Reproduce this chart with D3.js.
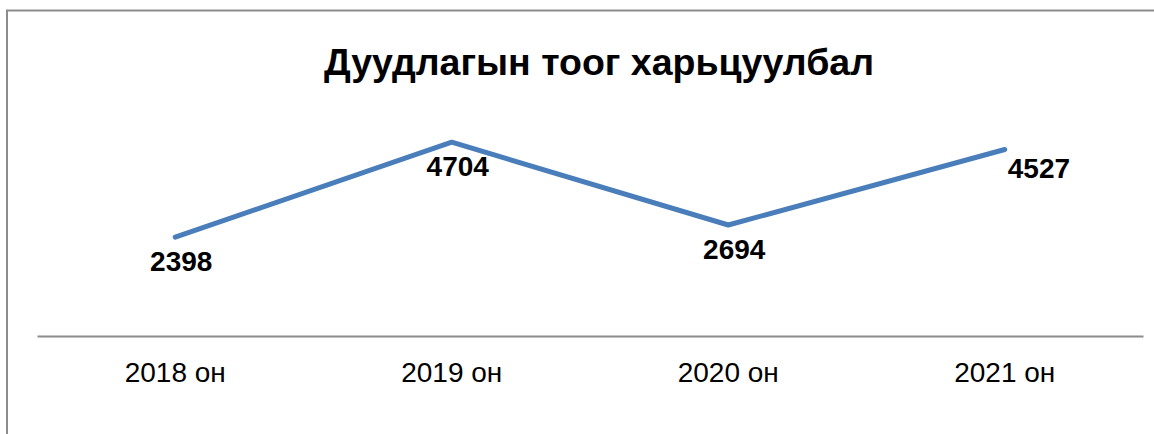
<!DOCTYPE html>
<html>
<head>
<meta charset="utf-8">
<script src="https://cdn.jsdelivr.net/npm/d3@7"></script>
<style>
  body { margin: 0; background: #fff; }
  text { font-family: "Liberation Sans", Arial, sans-serif; }
</style>
</head>
<body>
<div id="chart"></div>
<script>
var width = 1154,
    height = 434;

var years = ["2018 он", "2019 он", "2020 он", "2021 он"];
var calls = [2398, 4704, 2694, 4527];
var labelPos = ["below", "below", "below", "right"];
var title = "Дуудлагын тоог харьцуулбал";

var svg = d3.select("#chart").append("svg")
    .attr("width", width)
    .attr("height", height);

// chart frame
svg.append("rect")
  .attr("x", 7)
  .attr("y", 10.5)
  .attr("width", width + 10)
  .attr("height", height + 10)
  .attr("fill", "none")
  .attr("stroke", "#8c8c8c")
  .attr("stroke-width", 2);

var x = d3.scaleBand()
    .domain(years)
    .range([37, 1143]);

var y = d3.scaleLinear()
    .domain([0, 5000])
    .range([336, 130]);

svg.append("text")
  .attr("x", 599)
  .attr("y", 75)
  .attr("text-anchor", "middle")
  .style("font-size", "37.5px")
  .style("font-weight", "bold")
  .text(title);

var xAxis = svg.append("g")
  .attr("transform", "translate(0," + y(0) + ")")
  .call(d3.axisBottom(x).tickSize(0).tickPadding(0));
xAxis.select(".domain").attr("stroke", "#8c8c8c").attr("stroke-width", 2);
xAxis.selectAll(".tick text")
  .attr("dy", 0)
  .attr("y", 46)
  .style("font-size", "28px")
  .style("font-family", "'Liberation Sans', Arial, sans-serif")
  .attr("fill", "#000");

var cx = function(d, i) { return x(years[i]) + x.bandwidth() / 2; };

var line = d3.line()
    .x(cx)
    .y(function(d) { return y(d); });

svg.append("path")
  .datum(calls)
  .attr("d", line)
  .attr("fill", "none")
  .attr("stroke", "#4a7ebb")
  .attr("stroke-width", 5)
  .attr("stroke-linecap", "round")
  .attr("stroke-linejoin", "round");

svg.selectAll(".lbl")
  .data(calls)
  .enter().append("text")
  .attr("class", "lbl")
  .attr("x", function(d, i) { return labelPos[i] == "right" ? cx(d, i) + 3 : cx(d, i) + 6; })
  .attr("y", function(d, i) { return y(d) + (labelPos[i] == "right" ? 29 : 34); })
  .attr("text-anchor", function(d, i) { return labelPos[i] == "right" ? "start" : "middle"; })
  .style("font-size", "28px")
  .style("font-weight", "bold")
  .text(function(d) { return d; });
</script>
</body>
</html>
